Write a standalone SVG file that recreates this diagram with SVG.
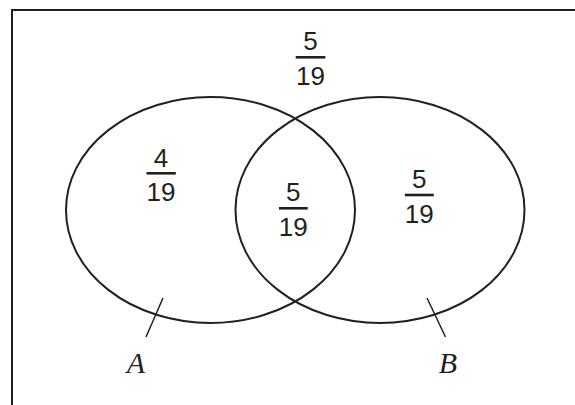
<svg xmlns="http://www.w3.org/2000/svg" width="575" height="405" viewBox="0 0 575 405">
<style>
.shape{fill:none;stroke:#231f20;stroke-width:2}
.tick{stroke:#231f20;stroke-width:1.5}
.num{font-family:"Liberation Sans",Arial,sans-serif;font-size:26px;fill:#231f20;text-anchor:middle}
.bar{stroke:#231f20;stroke-width:2.6}
.lbl{font-family:"Liberation Serif","Times New Roman",serif;font-style:italic;font-size:30px;fill:#231f20;text-anchor:middle}
</style>
<rect width="575" height="405" fill="#ffffff"/>
<g id="universe">
<rect class="shape" x="12" y="10" width="580" height="420"/>
</g>
<g id="setA">
<ellipse class="shape" cx="210.5" cy="210" rx="144.5" ry="113"/>
<text class="lbl" x="136" y="373">A</text>
</g>
<g id="setB">
<ellipse class="shape" cx="380" cy="210" rx="144.5" ry="113"/>
<text class="lbl" x="448" y="373">B</text>
</g>
<g id="connectors">
<line class="tick" x1="163" y1="298" x2="146" y2="337"/>
<line class="tick" x1="427" y1="298" x2="445.5" y2="337"/>
</g>
<g id="outside">
<text class="num" x="310.5" y="50">5</text>
<line class="bar" x1="295.7" y1="57.3" x2="325.3" y2="57.3"/>
<text class="num" x="310.5" y="85">19</text>
</g>
<g id="onlyA">
<text class="num" x="161" y="166.5">4</text>
<line class="bar" x1="146.5" y1="173.3" x2="175.8" y2="173.3"/>
<text class="num" x="161" y="200.7">19</text>
</g>
<g id="AandB">
<text class="num" x="293.3" y="201">5</text>
<line class="bar" x1="279" y1="208.3" x2="307.7" y2="208.3"/>
<text class="num" x="293.3" y="236">19</text>
</g>
<g id="onlyB">
<text class="num" x="419.3" y="187.5">5</text>
<line class="bar" x1="404.8" y1="195" x2="433.8" y2="195"/>
<text class="num" x="419.3" y="223">19</text>
</g>
</svg>
